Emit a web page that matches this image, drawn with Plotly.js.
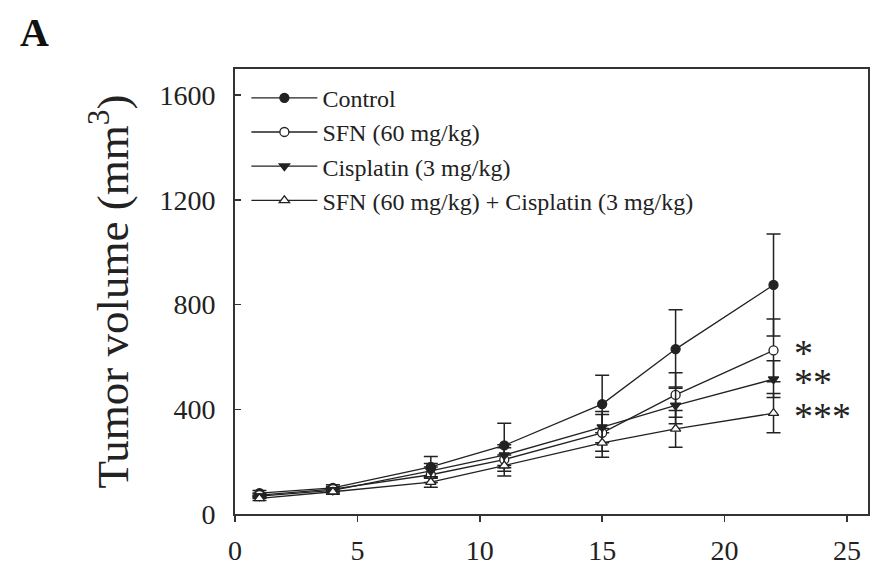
<!DOCTYPE html>
<html>
<head>
<meta charset="utf-8">
<script src="https://cdn.plot.ly/plotly-3.0.1.min.js"></script>
<style>html,body{margin:0;padding:0;background:#fff;}#chart{width:873px;height:568px;}</style>
</head>
<body>
<div id="chart"></div>
<script>
const days = [1, 4, 8, 11, 15, 18, 22];
const seriesNames = ["Control", "SFN (60 mg/kg)", "Cisplatin (3 mg/kg)", "SFN (60 mg/kg) + Cisplatin (3 mg/kg)"];
const control = [80, 100, 180, 262, 420, 630, 875];
const sfn = [72, 95, 150, 208, 310, 455, 625];
const cis = [68, 90, 165, 225, 332, 415, 515];
const combo = [60, 85, 122, 185, 272, 325, 385];
const controlErr = [10, 12, 40, 85, 110, 150, 195];
const sfnErr = [8, 10, 30, 45, 70, 85, 120];
const cisErr = [8, 10, 28, 40, 60, 70, 70];
const comboErr = [8, 10, 20, 40, 55, 70, 75];
const sigLabels = ["*", "**", "***"];
const xTicks = [0, 5, 10, 15, 20, 25];
const yTicks = [0, 400, 800, 1200, 1600];

const serif = "Liberation Serif, Times New Roman, serif";
const ink = "#222";

function mk(name, y, err, symbol, fill) {
  return {
    type: "scatter", mode: "lines+markers", name: name, x: days, y: y,
    line: {color: ink, width: 1.3},
    marker: {symbol: symbol, size: 9, color: fill, line: {color: ink, width: 1.3}},
    error_y: {type: "data", array: err, visible: true, color: ink, thickness: 1.5, width: 7}
  };
}

const data = [
  mk(seriesNames[0], control, controlErr, "circle", ink),
  mk(seriesNames[1], sfn, sfnErr, "circle", "#fff"),
  mk(seriesNames[2], cis, cisErr, "triangle-down", ink),
  mk(seriesNames[3], combo, comboErr, "triangle-up", "#fff")
];

const W = 873, H = 568, ML = 235, MR = 5, MT = 69, MB = 54;
const PW = W - ML - MR, PH = H - MT - MB;

const lastIdx = days.length - 1;
const sigSeries = [sfn, cis, combo];
const annotations = sigSeries.map((s, i) => ({
  x: 22.75, y: s[lastIdx], xref: "x", yref: "y", text: sigLabels[i],
  showarrow: false, xanchor: "left", yanchor: "middle", yshift: -3,
  font: {family: serif, size: 38, color: ink}
}));
annotations.push({
  x: (34 - ML) / PW, y: (H - MB - 32) / PH, xref: "paper", yref: "paper",
  text: "<b>A</b>", showarrow: false, xanchor: "center", yanchor: "middle",
  font: {family: serif, size: 40, color: "#111"}
});

const layout = {
  width: W, height: H,
  margin: {l: ML, r: MR, t: MT, b: MB},
  paper_bgcolor: "#fff", plot_bgcolor: "#fff",
  showlegend: true,
  legend: {
    x: 0.018, y: 0.985, xanchor: "left", yanchor: "top",
    bgcolor: "rgba(0,0,0,0)", borderwidth: 0,
    font: {family: serif, size: 24, color: ink},
    itemwidth: 66, tracegroupgap: 0
  },
  xaxis: {
    range: [0, 25.86], tickvals: xTicks, ticks: "outside", ticklen: 6, tickwidth: 1.5,
    tickcolor: "#333", showline: true, linecolor: "#333", linewidth: 2, mirror: true,
    showgrid: false, zeroline: false, ticklabelstandoff: 4,
    tickfont: {family: serif, size: 28, color: ink}
  },
  yaxis: {
    range: [0, 1700], tickvals: yTicks, ticks: "inside", ticklen: 6, tickwidth: 1.5,
    tickcolor: "#333", showline: true, linecolor: "#333", linewidth: 2, mirror: true,
    showgrid: false, zeroline: false, ticklabelstandoff: 12,
    tickfont: {family: serif, size: 28, color: ink},
    title: {text: "Tumor volume (mm<sup>3</sup>)", font: {family: serif, size: 45, color: ink}, standoff: 17}
  },
  annotations: annotations
};

Plotly.newPlot("chart", data, layout, {displayModeBar: false, staticPlot: true});
</script>
</body>
</html>
